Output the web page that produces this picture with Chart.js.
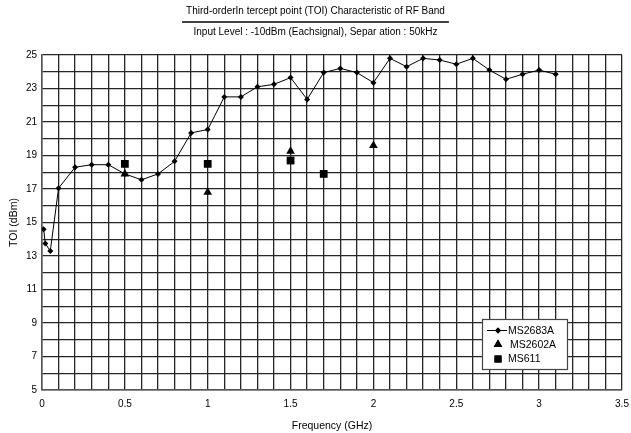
<!DOCTYPE html>
<html>
<head>
<meta charset="utf-8">
<script src="https://cdn.jsdelivr.net/npm/chart.js@4/dist/chart.umd.min.js"></script>
<style>
  html,body{margin:0;padding:0;background:#fff;}
  #wrap{width:631px;height:433px;}
</style>
</head>
<body>
<div id="wrap"><canvas id="c" width="631" height="433"></canvas></div>
<script>
// ---- data ----
const titleText = "Third-orderIn tercept point (TOI) Characteristic of RF Band";
const subtitleText = "Input Level : -10dBm (Eachsignal), Separ ation : 50kHz";
const xTitle = "Frequency (GHz)";
const yTitle = "TOI (dBm)";
const seriesNames = ["MS2683A", "MS2602A", "MS611"];

const ms2683aFreq = [0.01, 0.02, 0.05, 0.1, 0.2, 0.3, 0.4, 0.5, 0.6, 0.7, 0.8, 0.9, 1.0, 1.1, 1.2, 1.3, 1.4, 1.5, 1.6, 1.7, 1.8, 1.9, 2.0, 2.1, 2.2, 2.3, 2.4, 2.5, 2.6, 2.7, 2.8, 2.9, 3.0, 3.1];
const ms2683aToi  = [14.6, 13.75, 13.3, 17.05, 18.3, 18.45, 18.45, 17.9, 17.55, 17.9, 18.65, 20.35, 20.55, 22.5, 22.5, 23.1, 23.25, 23.65, 22.35, 23.95, 24.2, 23.95, 23.35, 24.8, 24.3, 24.8, 24.7, 24.45, 24.8, 24.1, 23.55, 23.85, 24.1, 23.85];

const ms2602aFreq = [0.5, 1.0, 1.5, 2.0];
const ms2602aToi  = [17.9, 16.8, 19.25, 19.6];

const ms611Freq = [0.5, 1.0, 1.5, 1.7];
const ms611Toi  = [18.5, 18.5, 18.7, 17.9];

const xMin = 0, xMax = 3.5, xGridStep = 0.1, xLabelStep = 0.5;
const yMin = 5, yMax = 25, yGridStep = 1, yLabelStep = 2;

// ---- helpers ----
const pts = (xs, ys) => xs.map((x, i) => ({x: x, y: ys[i]}));
const FONT = "'Liberation Sans', Arial, sans-serif";
Chart.defaults.font.family = FONT;
Chart.defaults.color = '#000';

const gridColor = '#262626';

const datasets = [
  { label: seriesNames[0], data: pts(ms2683aFreq, ms2683aToi), showLine: true,
    borderColor: '#000', backgroundColor: '#000', borderWidth: 1,
    pointStyle: 'rectRot', pointRadius: 3, pointBorderWidth: 0, tension: 0 },
  { label: seriesNames[1], data: pts(ms2602aFreq, ms2602aToi), showLine: false,
    borderColor: '#000', backgroundColor: '#000',
    pointStyle: 'triangle', pointRadius: 5, pointBorderWidth: 0 },
  { label: seriesNames[2], data: pts(ms611Freq, ms611Toi), showLine: false,
    borderColor: '#000', backgroundColor: '#000',
    pointStyle: 'rect', pointRadius: 5.5, pointBorderWidth: 0 }
];

// underline under title
const titleUnderline = {
  id: 'titleUnderline',
  afterDraw(chart) {
    const tb = chart.titleBlock;
    if (!tb) return;
    const ctx = chart.ctx;
    ctx.save();
    ctx.font = '10px ' + FONT;
    const w = ctx.measureText(titleText).width + 8;
    const cx = (tb.left + tb.right) / 2;
    const y = tb.bottom - 4;
    ctx.strokeStyle = '#000';
    ctx.lineWidth = 1.3;
    ctx.beginPath();
    ctx.moveTo(cx - w / 2, y);
    ctx.lineTo(cx + w / 2, y);
    ctx.stroke();
    ctx.restore();
  }
};

// boxed legend inside the plot area
const boxLegend = {
  id: 'boxLegend',
  afterDatasetsDraw(chart) {
    const ctx = chart.ctx;
    const area = chart.chartArea;
    const bx = area.right - 140, by = area.bottom - 71, bw = 85, bh = 50;
    ctx.save();
    ctx.fillStyle = '#fff';
    ctx.fillRect(bx, by, bw, bh);
    ctx.strokeStyle = '#444';
    ctx.lineWidth = 1.2;
    ctx.strokeRect(bx + 0.5, by + 0.5, bw, bh);
    ctx.font = '10.5px ' + FONT;
    ctx.textBaseline = 'middle';
    ctx.fillStyle = '#000';
    const rows = [by + 11.5, by + 25.5, by + 40];
    chart.data.datasets.forEach((ds, i) => {
      const y = rows[i];
      const sx = bx + 16;
      if (ds.showLine) {
        ctx.strokeStyle = '#000';
        ctx.lineWidth = 1;
        ctx.beginPath();
        ctx.moveTo(bx + 5, y);
        ctx.lineTo(bx + 25, y);
        ctx.stroke();
      }
      ctx.fillStyle = '#000';
      Chart.helpers.drawPoint(ctx, {
        pointStyle: ds.pointStyle, rotation: 0, borderWidth: 0,
        radius: ds.showLine ? 3 : 5
      }, sx, y);
      ctx.fill();
      ctx.fillText(ds.label, bx + (i === 1 ? 28 : 26), y + 0.5);
    });
    ctx.restore();
  }
};

new Chart(document.getElementById('c'), {
  type: 'scatter',
  data: { datasets },
  plugins: [titleUnderline, boxLegend],
  options: {
    responsive: false,
    animation: false,
    layout: { padding: { left: 0, right: 0, top: 0, bottom: 0 } },
    plugins: {
      legend: { display: false },
      tooltip: { enabled: false },
      title: { display: true, text: titleText, font: { size: 10, weight: 'normal' },
               padding: { top: 5, bottom: 9 } },
      subtitle: { display: true, text: subtitleText, font: { size: 10 }, color: '#000',
               padding: { top: 0, bottom: 17 } }
    },
    scales: {
      x: {
        type: 'linear', min: xMin, max: xMax,
        afterFit: s => { s.height = 43; s.paddingLeft = 0; s.paddingRight = 9; },
        grid: { color: gridColor, lineWidth: 1.3, drawTicks: false },
        border: { color: '#555', width: 1.5 },
        ticks: {
          stepSize: xGridStep, autoSkip: false, maxRotation: 0, padding: 8,
          font: { size: 10 },
          callback: v => {
            const r = Math.round(v * 10) / 10;
            return Math.abs(r / xLabelStep - Math.round(r / xLabelStep)) < 1e-6 ? String(r) : '';
          }
        },
        title: { display: true, text: xTitle, font: { size: 10.5 }, padding: { top: 0, bottom: 1 } }
      },
      y: {
        type: 'linear', min: yMin, max: yMax,
        afterFit: s => { s.width = 42; },
        grid: { color: gridColor, lineWidth: 1.3, drawTicks: false },
        border: { color: '#555', width: 1.5 },
        ticks: {
          stepSize: yGridStep, autoSkip: false, padding: 5,
          font: { size: 10 },
          callback: v => ((Math.round(v) - yMin) % yLabelStep === 0 ? String(Math.round(v)) : '')
        },
        title: { display: true, text: yTitle, font: { size: 10.5 }, padding: { top: 8, bottom: 0 } }
      }
    }
  }
});
</script>
</body>
</html>
